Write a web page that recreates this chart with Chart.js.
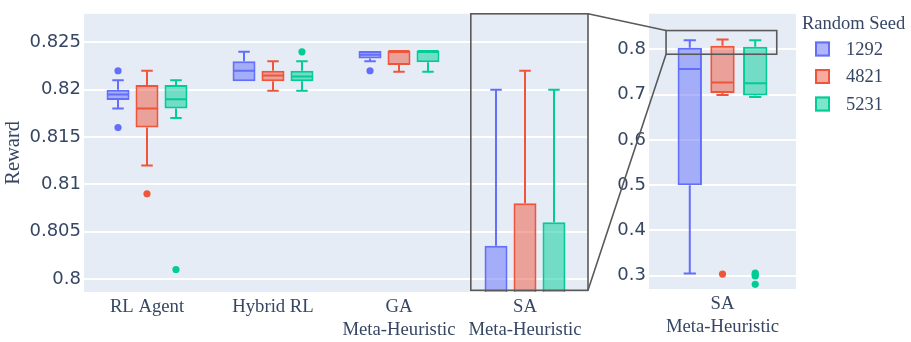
<!DOCTYPE html>
<html><head><meta charset="utf-8">
<script src="https://cdn.jsdelivr.net/npm/chart.js@4.4.1/dist/chart.umd.min.js"></script>
<style>
html,body{margin:0;padding:0;background:#fff;}
#wrap{position:relative;width:911px;height:342px;overflow:hidden;}
canvas{position:absolute;left:0;top:0;}
</style></head><body>
<div id="wrap"><canvas id="left" width="911" height="342"></canvas><canvas id="right" width="911" height="342"></canvas></div>
<script>
// ---------- data ----------
const categories = ['RL Agent', 'Hybrid RL', ['GA', 'Meta-Heuristic'], ['SA', 'Meta-Heuristic']];
const seeds = ['1292', '4821', '5231'];

// seed 1292
const lo1292  = [0.818, 0.8209, 0.8230, 0.305];
const q1_1292 = [0.8189, 0.8209, 0.8233, 0.500];
const med1292 = [0.8195, 0.822, 0.8237, 0.7565];
const q3_1292 = [0.820, 0.823, 0.8241, 0.8035];
const hi1292  = [0.821, 0.824, 0.8241, 0.820];
const out1292 = [[0.822, 0.816], [], [0.822], []];
// seed 4821
const lo4821  = [0.812, 0.8199, 0.8219, 0.699];
const q1_4821 = [0.816, 0.8209, 0.8226, 0.7036];
const med4821 = [0.818, 0.8215, 0.8241, 0.727];
const q3_4821 = [0.8205, 0.822, 0.8241, 0.808];
const hi4821  = [0.822, 0.823, 0.8241, 0.822];
const out4821 = [[0.809], [], [], [0.3037]];
// seed 5231
const lo5231  = [0.817, 0.8199, 0.8219, 0.695];
const q1_5231 = [0.818, 0.8209, 0.8229, 0.698];
const med5231 = [0.819, 0.8214, 0.8241, 0.725];
const q3_5231 = [0.8205, 0.822, 0.8241, 0.806];
const hi5231  = [0.821, 0.823, 0.8241, 0.820];
const out5231 = [[0.801], [0.824], [], [0.306, 0.302, 0.2995, 0.281]];

const leftTicks = [0.8, 0.805, 0.81, 0.815, 0.82, 0.825];
const rightTicks = [0.3, 0.4, 0.5, 0.6, 0.7, 0.8];
const leftRange = [0.79862, 0.82802];
const rightRange = [0.2707, 0.8786];

// ---------- styles ----------
const lineColors = ['#636EFA', '#EF553B', '#00CC96'];
const fillColors = ['rgba(99,110,250,0.5)', 'rgba(239,85,59,0.5)', 'rgba(0,204,150,0.5)'];
const textColor = '#364663';
const plotBg = '#E5ECF6';

const stats = [
  {lo: lo1292, q1: q1_1292, med: med1292, q3: q3_1292, hi: hi1292, out: out1292},
  {lo: lo4821, q1: q1_4821, med: med4821, q3: q3_4821, hi: hi4821, out: out4821},
  {lo: lo5231, q1: q1_5231, med: med5231, q3: q3_5231, hi: hi5231, out: out5231}
];

function makeDatasets(idx, catPct, barPct) {
  return seeds.map((s, i) => ({
    label: s,
    data: idx.map(k => [stats[i].q1[k], stats[i].q3[k]]),
    backgroundColor: fillColors[i],
    borderColor: lineColors[i],
    borderWidth: 2,
    borderSkipped: false,
    categoryPercentage: catPct,
    barPercentage: barPct,
    clip: 0,
    stats: stats[i],
    catIndex: idx
  }));
}

const bgPlugin = {
  id: 'plotBg',
  beforeDraw(chart) {
    const a = chart.chartArea, ctx = chart.ctx;
    ctx.save();
    ctx.fillStyle = plotBg;
    ctx.fillRect(a.left, a.top, a.right - a.left, a.bottom - a.top);
    ctx.restore();
  }
};

const boxPlugin = {
  id: 'boxWhiskers',
  afterDatasetsDraw(chart) {
    const {ctx, chartArea: a} = chart;
    const y = chart.scales.y;
    const py = v => y.getPixelForValue(v);
    ctx.save();
    ctx.beginPath();
    ctx.rect(a.left, a.top, a.right - a.left, a.bottom - a.top);
    ctx.clip();
    chart.data.datasets.forEach((ds, di) => {
      const meta = chart.getDatasetMeta(di);
      const st = ds.stats;
      meta.data.forEach((bar, j) => {
        const k = ds.catIndex[j];
        const x = bar.x, w = bar.width, cap = w * 0.25;
        ctx.strokeStyle = ds.borderColor;
        ctx.lineWidth = 2;
        ctx.beginPath();
        ctx.moveTo(x - w / 2 + 1, py(st.med[k]));
        ctx.lineTo(x + w / 2 - 1, py(st.med[k]));
        if (st.hi[k] > st.q3[k]) {
          ctx.moveTo(x, py(st.q3[k])); ctx.lineTo(x, py(st.hi[k]));
          ctx.moveTo(x - cap, py(st.hi[k])); ctx.lineTo(x + cap, py(st.hi[k]));
        }
        if (st.lo[k] < st.q1[k]) {
          ctx.moveTo(x, py(st.q1[k])); ctx.lineTo(x, py(st.lo[k]));
          ctx.moveTo(x - cap, py(st.lo[k])); ctx.lineTo(x + cap, py(st.lo[k]));
        }
        ctx.stroke();
        ctx.fillStyle = ds.borderColor;
        st.out[k].forEach(v => {
          ctx.beginPath();
          ctx.arc(x, py(v), 3.6, 0, Math.PI * 2);
          ctx.fill();
        });
      });
    });
    ctx.restore();
  }
};

function yScale(range, ticks, width, title) {
  return {
    type: 'linear',
    min: range[0], max: range[1],
    afterBuildTicks: s => { s.ticks = ticks.map(v => ({value: v})); },
    afterFit: s => { s.width = width; },
    grid: {color: '#ffffff', lineWidth: 2, drawTicks: false},
    border: {display: false},
    ticks: {
      padding: 3,
      color: textColor,
      font: {family: '"DejaVu Sans", Verdana, sans-serif', size: 18},
      callback: v => String(Number(v.toFixed(4)))
    },
    title: title ? {
      display: true, text: title, color: textColor, padding: {top: 1, bottom: 0},
      font: {family: '"Liberation Serif", "Times New Roman", serif', size: 20.5}
    } : {display: false}
  };
}

function xScale(height) {
  return {
    type: 'category',
    offset: true,
    afterFit: s => { s.height = height; },
    grid: {display: false, drawTicks: false},
    border: {display: false},
    ticks: {
      padding: 3,
      color: textColor,
      maxRotation: 0, autoSkip: false,
      font: {family: '"Liberation Serif", "Times New Roman", serif', size: 18.7, lineHeight: 1.25}
    }
  };
}

const common = {
  responsive: false,
  animation: false,
  devicePixelRatio: 1,
  plugins: {legend: {display: false}, tooltip: {enabled: false}}
};

const leftChart = new Chart(document.getElementById('left'), {
  type: 'bar',
  data: {labels: categories, datasets: makeDatasets([0, 1, 2, 3], 0.69, 0.793)},
  options: Object.assign({}, common, {
    layout: {padding: {top: 5, right: 323, bottom: 0, left: 0}},
    scales: {x: xScale(50), y: yScale(leftRange, leftTicks, 84, 'Reward')}
  }),
  plugins: [bgPlugin, boxPlugin]
});

// zoom annotation (in data units of each panel)
const zoomFromX = [2.57, 3.5];
const zoomFromY = [0.7988, 0.82802];
const zoomToX = [-0.384, 0.369];
const zoomToY = [0.7893, 0.8416];

const overlayPlugin = {
  id: 'overlay',
  afterDraw(chart) {
    const ctx = chart.ctx;
    const lx = leftChart.scales.x, ly = leftChart.scales.y;
    const rx = chart.scales.x, ry = chart.scales.y;
    const L = {x0: lx.getPixelForValue(zoomFromX[0]), x1: lx.getPixelForValue(zoomFromX[1]),
               y0: ly.getPixelForValue(zoomFromY[1]), y1: ly.getPixelForValue(zoomFromY[0])};
    const R = {x0: rx.getPixelForValue(zoomToX[0]), x1: rx.getPixelForValue(zoomToX[1]),
               y0: ry.getPixelForValue(zoomToY[1]), y1: ry.getPixelForValue(zoomToY[0])};
    ctx.save();
    ctx.strokeStyle = '#5a5a5a';
    ctx.lineWidth = 1.6;
    ctx.strokeRect(L.x0, L.y0, L.x1 - L.x0, L.y1 - L.y0);
    ctx.strokeRect(R.x0, R.y0, R.x1 - R.x0, R.y1 - R.y0);
    ctx.beginPath();
    ctx.moveTo(L.x1, L.y0); ctx.lineTo(R.x0, R.y0);
    ctx.moveTo(L.x1, L.y1); ctx.lineTo(R.x0, R.y1);
    ctx.stroke();

    // legend
    ctx.fillStyle = textColor;
    ctx.textBaseline = 'middle';
    ctx.textAlign = 'left';
    ctx.font = '18.5px "Liberation Serif", "Times New Roman", serif';
    ctx.fillText('Random Seed', 802, 24);
    seeds.forEach((s, i) => {
      const cy = 49 + i * 27.5;
      ctx.fillStyle = fillColors[i];
      ctx.fillRect(815, cy - 7.5, 15, 15);
      ctx.strokeStyle = lineColors[i];
      ctx.lineWidth = 2;
      ctx.strokeRect(816, cy - 6.5, 13, 13);
      ctx.fillStyle = textColor;
      ctx.fillText(s, 846, cy + 1);
    });
    ctx.restore();
  }
};

const rightChart = new Chart(document.getElementById('right'), {
  type: 'bar',
  data: {labels: [categories[3]], datasets: makeDatasets([3], 0.668, 0.745)},
  options: Object.assign({}, common, {
    layout: {padding: {top: 5, right: 115, bottom: 0, left: 0}},
    scales: {x: xScale(53), y: yScale(rightRange, rightTicks, 649, null)}
  }),
  plugins: [bgPlugin, boxPlugin, overlayPlugin]
});
</script>
</body></html>
